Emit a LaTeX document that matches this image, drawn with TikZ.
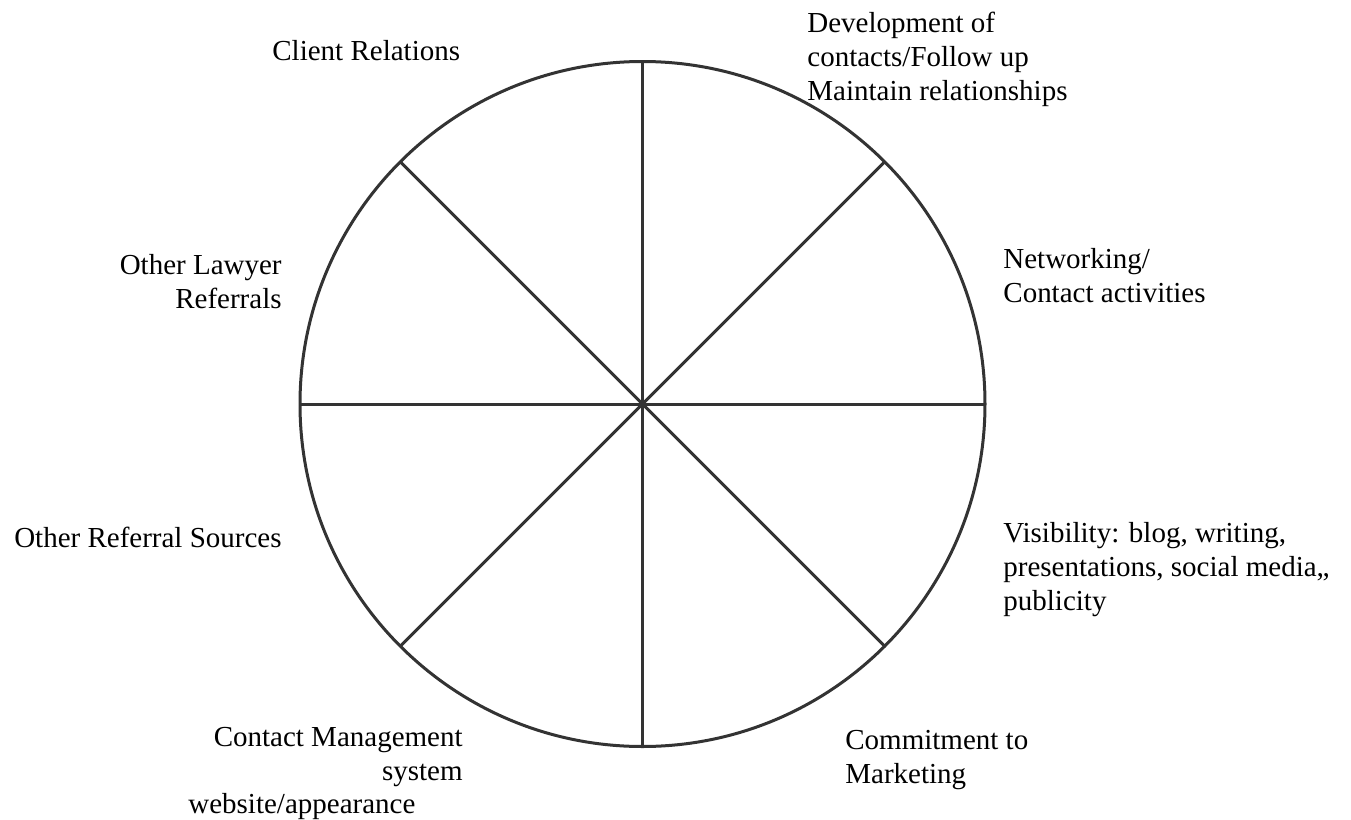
\documentclass[tikz,border=0pt]{standalone}
\usepackage{fontspec}
\setmainfont{Liberation Serif}
\usetikzlibrary{positioning}
\definecolor{spokegrey}{gray}{0.2}

\begin{document}
\begin{tikzpicture}
    [
        x=0.5pt, y=-0.5pt,
        wheel_node/.style={circle, draw=spokegrey, line width=1.5pt, minimum size=342.5pt, inner sep=0pt, outer sep=0pt},
        spoke/.style={line width=1.5pt, color=spokegrey},
        area_label/.style={inner sep=0pt, font=\fontsize{14.5}{16.9}\selectfont},
    ]
        \useasboundingbox (0,0) rectangle (1351,820);
        \node[wheel_node] (wheel) at (642.5,404) {} ;
        \foreach \angle in {0,45,...,315}
            \draw[spoke] (wheel.center) -- (wheel.\angle) ;
        % base anchor of a multi-line label sits on its last line
        \node[area_label, anchor=base west, align=left] (client) at (272,60) {Client Relations} ;
        \node[area_label, anchor=base west, align=left] (develop) at (807,100) {Development of\\contacts/Follow up\\Maintain relationships} ;
        \node[area_label, anchor=base west, align=left] (network) at (1003,302) {Networking/\\Contact activities} ;
        \node[area_label, anchor=base west, align=left] (visible) at (1003,610) {Visibility: blog, writing,\\presentations, social media,,\\publicity} ;
        \node[area_label, anchor=base west, align=left] (commit) at (845,783) {Commitment to\\Marketing} ;
        \node[area_label, anchor=base east, align=right] (contact) at (463,780) {Contact Management\\system} ;
        \node[area_label, anchor=base west, align=left] (website) at (188,813) {website/appearance} ;
        \node[area_label, anchor=base east, align=right] (sources) at (282,547) {Other Referral Sources} ;
        \node[area_label, anchor=base east, align=right] (lawyer) at (282,308) {Other Lawyer\\Referrals} ;
    \end{tikzpicture}
\end{document}
